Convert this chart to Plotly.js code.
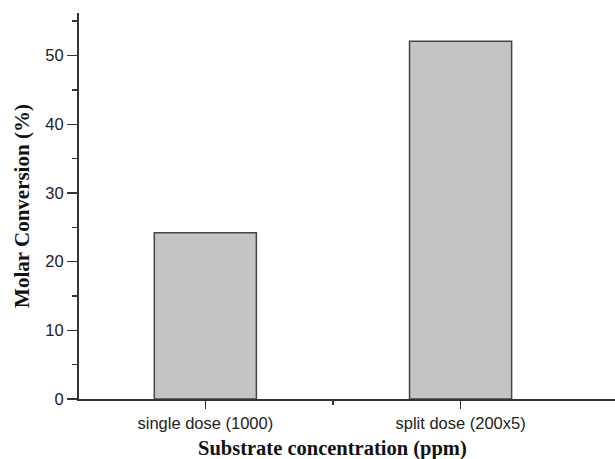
<!DOCTYPE html>
<html>
<head>
<meta charset="utf-8">
<script src="https://cdn.plot.ly/plotly-3.0.1.min.js"></script>
<style>html,body{margin:0;padding:0;background:#fff;}#chart{width:615px;height:459px;}</style>
</head>
<body>
<div id="chart"></div>
<script>
var categories = ["single dose (1000)", "split dose (200x5)"];
var positions = [0, 1];
var conversion = [24.2, 52.1];
var yTicks = [0, 10, 20, 30, 40, 50];
var betweenTicks = [0.5];

var axisColor = "#333333";

var trace = {
  type: "bar",
  x: positions,
  y: conversion,
  width: 0.4,
  marker: {color: "#c4c4c4", line: {color: "#444444", width: 1.5}},
  hoverinfo: "none"
};

var xRange = [-0.495, 1.605];

var layout = {
  width: 615,
  height: 459,
  margin: {l: 79, r: 0, t: 13, b: 60, pad: 0},
  paper_bgcolor: "#ffffff",
  plot_bgcolor: "#ffffff",
  showlegend: false,
  xaxis: {
    type: "linear",
    range: xRange,
    tickmode: "array",
    tickvals: positions,
    ticktext: categories,
    ticks: "outside",
    ticklen: 8,
    tickwidth: 1.5,
    tickcolor: axisColor,
    showline: true,
    linecolor: axisColor,
    linewidth: 2,
    showgrid: false,
    zeroline: false,
    tickfont: {family: "Liberation Sans, Arial, sans-serif", size: 16.5, color: "#222"}
  },
  xaxis2: {
    type: "linear",
    overlaying: "x",
    side: "bottom",
    anchor: "y",
    range: xRange,
    tickmode: "array",
    tickvals: betweenTicks,
    ticktext: [""],
    ticks: "outside",
    ticklen: 5,
    tickwidth: 1.5,
    tickcolor: axisColor,
    showline: false,
    showgrid: false,
    zeroline: false
  },
  yaxis: {
    range: [0, 56.2],
    tickmode: "array",
    tickvals: yTicks,
    ticks: "outside",
    ticklen: 10,
    tickwidth: 1.5,
    tickcolor: axisColor,
    showline: true,
    linecolor: axisColor,
    linewidth: 2,
    showgrid: false,
    zeroline: false,
    tickfont: {family: "Liberation Sans, Arial, sans-serif", size: 16.5, color: "#222"},
    minor: {dtick: 5, tick0: 0, ticks: "outside", ticklen: 5, tickwidth: 1.5, tickcolor: axisColor, showgrid: false},
    title: {text: "<b>Molar Conversion (%)</b>", font: {family: "Liberation Serif, Times New Roman, serif", size: 21, color: "#111"}, standoff: 10}
  },
  annotations: [{
    text: "<b>Substrate concentration (ppm)</b>",
    xref: "x", x: 0.5,
    yref: "paper", y: 0, yshift: -36,
    xanchor: "center", yanchor: "top",
    showarrow: false,
    font: {family: "Liberation Serif, Times New Roman, serif", size: 20.5, color: "#111"}
  }]
};

var helper = {type: "scatter", x: [], y: [], xaxis: "x2", yaxis: "y", hoverinfo: "none", showlegend: false};

Plotly.newPlot("chart", [trace, helper], layout, {displayModeBar: false, staticPlot: true});
</script>
</body>
</html>
